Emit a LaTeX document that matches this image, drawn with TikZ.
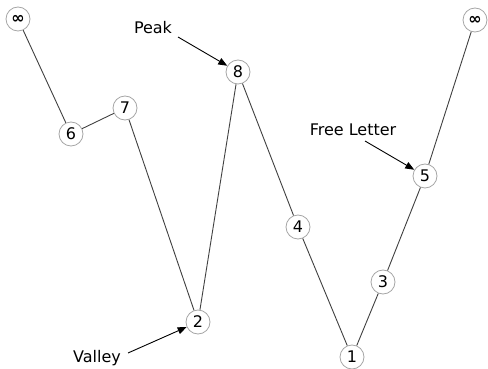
\documentclass[tikz,border=0pt]{standalone}
\usepackage{fontspec}
\setmainfont{DejaVu Sans}
\usetikzlibrary{arrows.meta}
\begin{document}
\begin{tikzpicture}[x=1pt,y=-1pt,
  vert/.style={circle,draw=black!35,fill=white,line width=0.8pt,minimum size=24pt,inner sep=0pt,font=\fontsize{16}{16}\selectfont},
  edge/.style={draw=black!75,line width=0.9pt},
  lab/.style={font=\fontsize{16}{16}\selectfont,inner sep=1pt},
  pointer/.style={draw=black,line width=0.9pt,-{Triangle[length=9pt,width=7pt]}}]
\useasboundingbox (0,0) rectangle (488,369);
\node[vert] (infl) at (18,19) {\textbf{∞}};
\node[vert] (n6) at (71,134) {6};
\node[vert] (n7) at (125,108) {7};
\node[vert] (n2) at (198,322) {2};
\node[vert] (n8) at (238,72) {8};
\node[vert] (n4) at (298,227) {4};
\node[vert] (n1) at (352,357) {1};
\node[vert] (n3) at (383,282) {3};
\node[vert] (n5) at (425,176) {5};
\node[vert] (infr) at (475,20) {\textbf{∞}};
\draw[edge] (infl) -- (n6);
\draw[edge] (n6) -- (n7);
\draw[edge] (n7) -- (n2);
\draw[edge] (n2) -- (n8);
\draw[edge] (n8) -- (n4);
\draw[edge] (n4) -- (n1);
\draw[edge] (n1) -- (n3);
\draw[edge] (n3) -- (n5);
\draw[edge] (n5) -- (infr);
\node[lab] (peak) at (153,28) {Peak};
\node[lab] (free) at (353,130) {Free Letter};
\node[lab] (valley) at (97,358) {Valley};
\coordinate (pk0) at (178,37);
\coordinate (fr0) at (365,141);
\coordinate (va0) at (128,353);
\draw[pointer] (pk0) -- (n8);
\draw[pointer] (fr0) -- (n5);
\draw[pointer] (va0) -- (n2);
\end{tikzpicture}
\end{document}
